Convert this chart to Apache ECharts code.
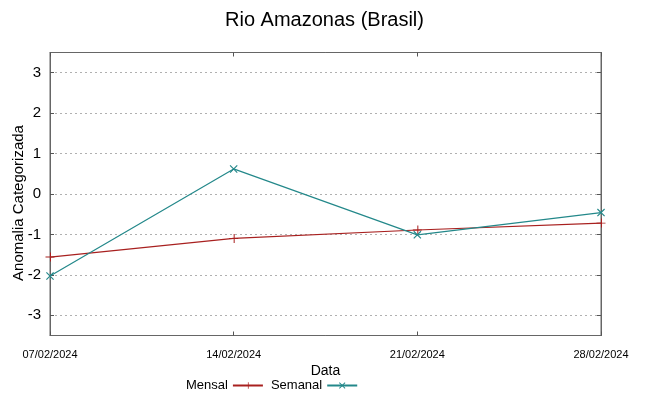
<!DOCTYPE html>
<html>
<head>
<meta charset="utf-8">
<script src="https://cdn.jsdelivr.net/npm/echarts@6/dist/echarts.min.js"></script>
<style>
  html, body { margin: 0; padding: 0; background: #fff; }
  #chart { width: 649px; height: 396px; }
</style>
</head>
<body>
<div id="chart"></div>
<script>
// data
const dates = ['07/02/2024', '14/02/2024', '21/02/2024', '28/02/2024']
const mensal = [-1.56, -1.10, -0.89, -0.72]
const semanal = [-2.03, 0.62, -1.01, -0.46]
const yTicks = [-3, -2, -1, 0, 1, 2, 3]

const redColor = '#a8201f'
const tealColor = '#23888a'
const plusIcon = 'path://M0,4.5 L9,4.5 L9,5.5 L0,5.5 Z M4.5,0 L5.5,0 L5.5,10 L4.5,10 Z'
const crossIcon = 'path://M0,1 L1,0 L10,9 L9,10 Z M9,0 L10,1 L1,10 L0,9 Z'

const chart = echarts.init(document.getElementById('chart'))

const tickCommon = {
  show: true,
  inside: true,
  length: 4,
  lineStyle: { color: '#555', width: 1 }
}

const option = {
  animation: false,
  title: {
    text: 'Rio Amazonas (Brasil)',
    left: 'center',
    top: 5,
    textStyle: { fontFamily: 'Liberation Sans', fontSize: 20, fontWeight: 'normal', color: '#000' }
  },
  legend: {
    left: 181,
    top: 374,
    align: 'right',
    itemWidth: 30,
    itemHeight: 8,
    itemGap: 7,
    textStyle: { fontFamily: 'Liberation Sans', fontSize: 13, color: '#000' },
    data: ['Mensal', 'Semanal']
  },
  grid: {
    left: 50,
    right: 48,
    top: 52.5,
    bottom: 60.5,
    outerBoundsMode: 'none',
    show: true,
    borderColor: '#666',
    borderWidth: 1
  },
  xAxis: [
    {
      type: 'category',
      data: dates,
      boundaryGap: false,
      name: 'Data',
      nameLocation: 'middle',
      nameGap: 29,
      nameMoveOverlap: false,
      nameTextStyle: { fontFamily: 'Liberation Sans', fontSize: 14, color: '#000' },
      axisLine: { onZero: false, lineStyle: { color: '#666' } },
      axisTick: tickCommon,
      axisLabel: { fontFamily: 'Liberation Sans', fontSize: 11, color: '#000', margin: 14 },
      splitLine: { show: false }
    },
    {
      type: 'category',
      data: dates,
      boundaryGap: false,
      position: 'top',
      axisLine: { onZero: false, lineStyle: { color: '#666' } },
      axisTick: tickCommon,
      axisLabel: { show: false },
      splitLine: { show: false }
    }
  ],
  yAxis: [
    {
      type: 'value',
      min: -3.5,
      max: 3.5,
      name: 'Anomalia Categorizada',
      nameLocation: 'middle',
      nameGap: 24,
      nameMoveOverlap: false,
      nameTextStyle: { fontFamily: 'Liberation Sans', fontSize: 15, color: '#000', padding: [0, 18, 0, 0] },
      axisLine: { show: true, onZero: false, lineStyle: { color: '#666' } },
      axisTick: Object.assign({ customValues: yTicks }, tickCommon),
      axisLabel: { customValues: yTicks, fontFamily: 'Liberation Sans', fontSize: 15, color: '#000', margin: 9 },
      splitLine: { show: true, customValues: yTicks, lineStyle: { color: '#b0b0b0', type: [2, 3], width: 1 } }
    },
    {
      type: 'value',
      min: -3.5,
      max: 3.5,
      position: 'right',
      axisLine: { show: true, onZero: false, lineStyle: { color: '#666' } },
      axisTick: Object.assign({ customValues: yTicks }, tickCommon),
      axisLabel: { show: false, customValues: yTicks },
      splitLine: { show: false }
    }
  ],
  series: [
    {
      name: 'Mensal',
      type: 'line',
      data: mensal,
      symbol: plusIcon,
      symbolSize: 9,
      showSymbol: true,
      itemStyle: { color: redColor },
      lineStyle: { color: redColor, width: 1.2 }
    },
    {
      name: 'Semanal',
      type: 'line',
      data: semanal,
      symbol: crossIcon,
      symbolSize: 8,
      showSymbol: true,
      itemStyle: { color: tealColor },
      lineStyle: { color: tealColor, width: 1.2 }
    }
  ]
}

chart.setOption(option)
</script>
</body>
</html>
